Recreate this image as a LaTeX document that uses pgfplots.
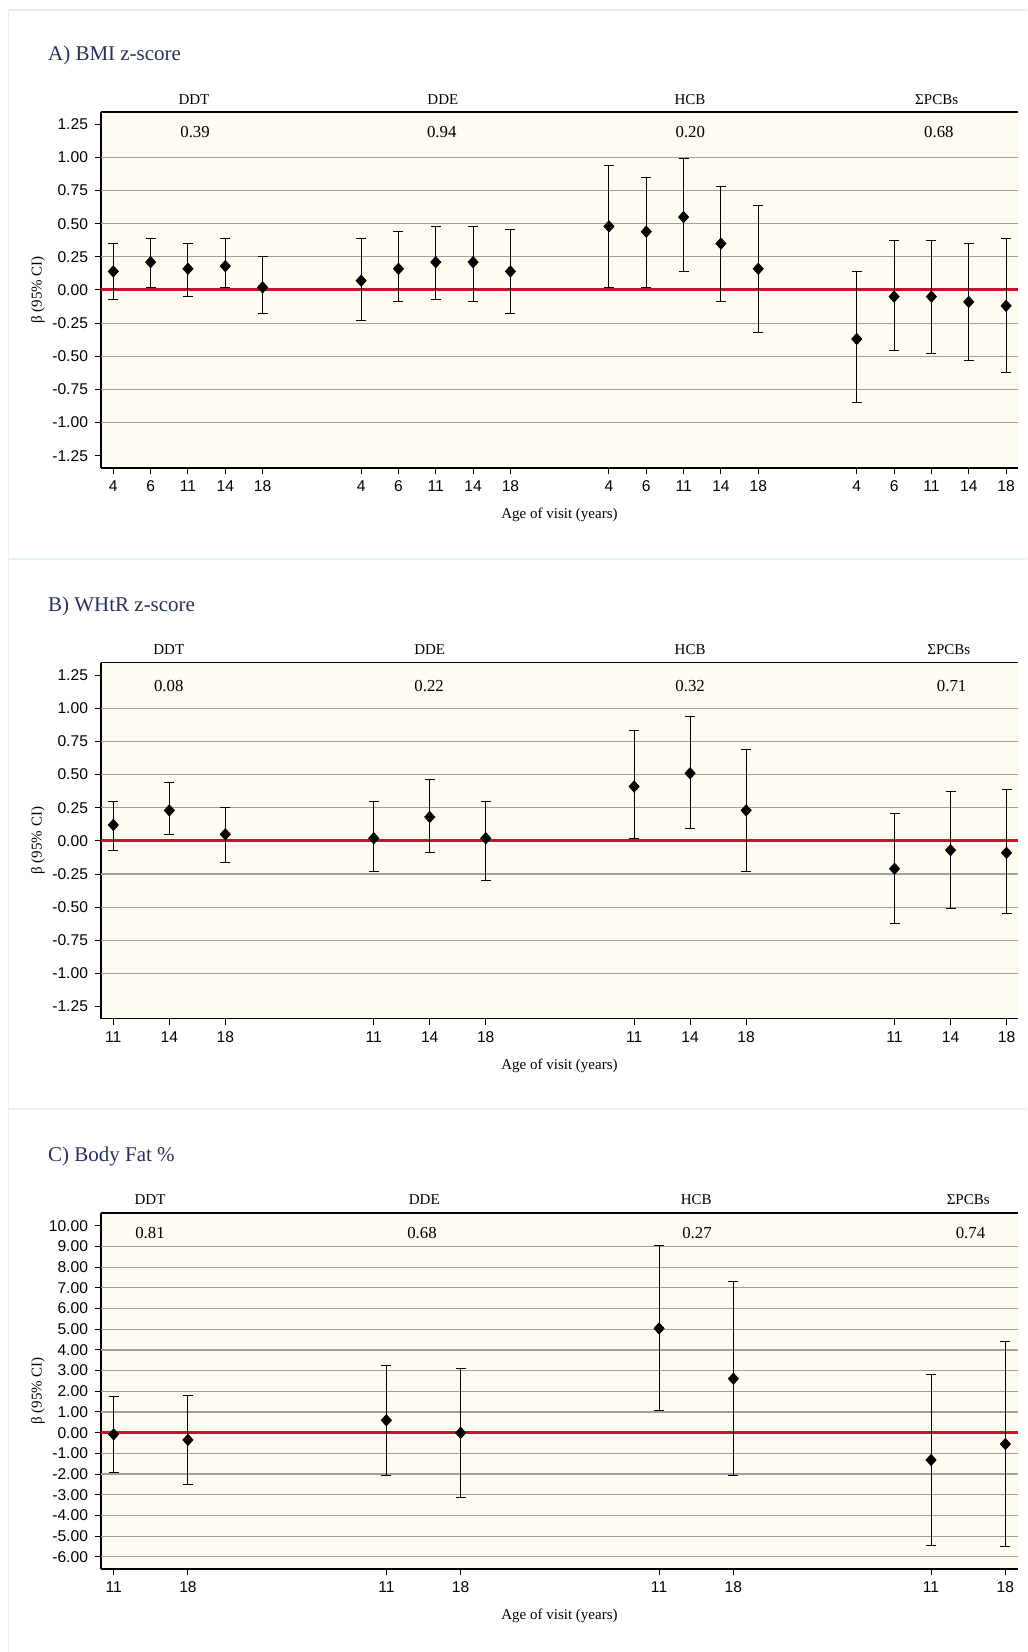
\documentclass[border=0pt]{standalone}
\usepackage{fontspec}
\setmainfont{Liberation Serif}
\setsansfont{Liberation Sans}
\usepackage{pgfplots}
\usepackage{pgfplotstable}
\pgfplotsset{compat=1.18}

\definecolor{cream}{RGB}{254,251,240}
\definecolor{navy}{RGB}{38,50,88}
\definecolor{zred}{RGB}{200,16,46}
\definecolor{gridc}{RGB}{160,160,160}
\definecolor{sepc}{RGB}{230,240,238}

\pgfplotstableread{
x y lo hi
0 0.14 -0.07 0.35
1 0.21 0.02 0.39
2 0.16 -0.05 0.35
3 0.18 0.02 0.39
4 0.02 -0.18 0.25
6.64 0.07 -0.23 0.39
7.64 0.16 -0.09 0.44
8.64 0.21 -0.07 0.48
9.64 0.21 -0.09 0.48
10.64 0.14 -0.18 0.46
13.28 0.48 0.02 0.94
14.28 0.44 0.02 0.85
15.28 0.55 0.14 0.99
16.28 0.35 -0.09 0.78
17.28 0.16 -0.32 0.64
19.92 -0.37 -0.85 0.14
20.92 -0.05 -0.46 0.37
21.92 -0.05 -0.48 0.37
22.92 -0.09 -0.53 0.35
23.92 -0.12 -0.62 0.39
}\tabA

\pgfplotstableread{
x y lo hi
0 0.12 -0.07 0.30
1 0.23 0.05 0.44
2 0.05 -0.16 0.25
4.65 0.02 -0.23 0.30
5.65 0.18 -0.09 0.46
6.65 0.02 -0.30 0.30
9.30 0.41 0.02 0.83
10.30 0.51 0.09 0.94
11.30 0.23 -0.23 0.69
13.95 -0.21 -0.62 0.21
14.95 -0.07 -0.51 0.37
15.95 -0.09 -0.55 0.39
}\tabB

\pgfplotstableread{
x y lo hi
0 -0.08 -1.92 1.77
1 -0.35 -2.50 1.79
3.67 0.60 -2.06 3.25
4.67 -0.01 -3.14 3.09
7.34 5.04 1.05 9.03
8.34 2.61 -2.09 7.29
11.00 -1.32 -5.43 2.82
12.00 -0.55 -5.51 4.43
}\tabC

\tikzset{
  grp/.style={font=\fontsize{7.5}{9}\selectfont},
  pv/.style={font=\fontsize{8.4}{10}\selectfont},
}

\pgfplotsset{
  panel/.style={
    scale only axis, width=458.5pt, height=178pt,
    anchor=north west, clip=false,
    axis background/.style={fill=cream},
    axis x line=bottom, axis y line=left, axis line style={-, black, line width=0.6pt},
    tick align=outside, major tick length=3pt,
    tick style={black, line width=0.5pt},
    ticklabel style={font=\sffamily\fontsize{7.8}{8}\selectfont},
    xlabel={Age of visit (years)},
    ylabel={β (95\% CI)},
    label style={font=\fontsize{7.5}{8}\selectfont},
    x label style={at={(axis description cs:0.5,-0.132)}, anchor=center},
    y label style={at={(axis description cs:-0.0687,0.5)}, anchor=center},
    extra y tick style={grid=major, major tick length=0pt, major grid style={gridc, line width=0.6pt}},
    extra y tick labels={},
  },
  ci/.style={only marks, mark=diamond*, mark size=2.8pt, mark options={xscale=1.2}, black,
    error bars/.cd, y dir=both, y explicit,
    error bar style={line width=0.5pt, black},
    error mark=|,
    error mark options={mark size=2.5pt, line width=0.5pt, black}},
  zline/.style={zred, line width=1.5pt, forget plot, no markers},
}

\begin{document}
\begin{tikzpicture}
\useasboundingbox (0,0) rectangle (513.5pt,826pt);
% faint panel separators
\draw[sepc, line width=0.6pt] (4.25pt,821pt) -- (513.5pt,821pt);
\draw[sepc, line width=0.6pt] (4.25pt,821pt) -- (4.25pt,0pt);
\draw[sepc, line width=0.6pt] (4.25pt,546.5pt) -- (513.5pt,546.5pt);
\draw[sepc, line width=0.6pt] (4.25pt,271.5pt) -- (513.5pt,271.5pt);

% titles
\node[anchor=west, inner sep=0pt, text=navy, font=\fontsize{10.5}{12}\selectfont] at (23.85pt,798.5pt) {A) BMI z-score};
\node[anchor=west, inner sep=0pt, text=navy, font=\fontsize{10.5}{12}\selectfont] at (23.85pt,523pt) {B) WHtR z-score};
\node[anchor=west, inner sep=0pt, text=navy, font=\fontsize{10.5}{12}\selectfont] at (23.85pt,247.65pt) {C) Body Fat \%};

% Panel A
\begin{axis}[panel, at={(50.5pt,770pt)},
  xmin=-0.33, xmax=24.24, ymin=-1.343, ymax=1.343,
  xtick={0,1,2,3,4,6.64,7.64,8.64,9.64,10.64,13.28,14.28,15.28,16.28,17.28,19.92,20.92,21.92,22.92,23.92},
  xticklabels={4,6,11,14,18,4,6,11,14,18,4,6,11,14,18,4,6,11,14,18},
  ytick={-1.25,-1,-0.75,-0.5,-0.25,0,0.25,0.5,0.75,1,1.25},
  yticklabels={-1.25,-1.00,-0.75,-0.50,-0.25,0.00,0.25,0.50,0.75,1.00,1.25},
  extra y ticks={-1,-0.75,-0.5,-0.25,0.25,0.5,0.75,1},
]
\addplot[zline] coordinates {(-0.33,0) (24.24,0)};
\addplot[ci] table[x=x, y=y, y error plus expr=\thisrow{hi}-\thisrow{y}, y error minus expr=\thisrow{y}-\thisrow{lo}] {\tabA};
\draw[black, line width=0.6pt] (rel axis cs:0,1) -- (rel axis cs:1,1);
\node[grp] at (axis cs:2.16,1.44) {DDT};
\node[grp] at (axis cs:8.83,1.44) {DDE};
\node[grp] at (axis cs:15.45,1.44) {HCB};
\node[grp] at (axis cs:22.06,1.44) {ΣPCBs};
\node[pv] at (axis cs:2.19,1.19) {0.39};
\node[pv] at (axis cs:8.80,1.19) {0.94};
\node[pv] at (axis cs:15.46,1.19) {0.20};
\node[pv] at (axis cs:22.12,1.19) {0.68};
\end{axis}

% Panel B
\begin{axis}[panel, at={(50.5pt,494.65pt)},
  xmin=-0.22, xmax=16.155, ymin=-1.341, ymax=1.344,
  xtick={0,1,2,4.65,5.65,6.65,9.30,10.30,11.30,13.95,14.95,15.95},
  xticklabels={11,14,18,11,14,18,11,14,18,11,14,18},
  ytick={-1.25,-1,-0.75,-0.5,-0.25,0,0.25,0.5,0.75,1,1.25},
  yticklabels={-1.25,-1.00,-0.75,-0.50,-0.25,0.00,0.25,0.50,0.75,1.00,1.25},
  extra y ticks={-1,-0.75,-0.5,-0.25,0.25,0.5,0.75,1},
]
\addplot[zline] coordinates {(-0.22,0) (16.155,0)};
\addplot[ci] table[x=x, y=y, y error plus expr=\thisrow{hi}-\thisrow{y}, y error minus expr=\thisrow{y}-\thisrow{lo}] {\tabB};
\draw[black, line width=0.6pt] (rel axis cs:0,1) -- (rel axis cs:1,1);
\node[grp] at (axis cs:0.99,1.443) {DDT};
\node[grp] at (axis cs:5.65,1.443) {DDE};
\node[grp] at (axis cs:10.30,1.443) {HCB};
\node[grp] at (axis cs:14.92,1.443) {ΣPCBs};
\node[pv] at (axis cs:0.99,1.168) {0.08};
\node[pv] at (axis cs:5.64,1.168) {0.22};
\node[pv] at (axis cs:10.30,1.168) {0.32};
\node[pv] at (axis cs:14.97,1.168) {0.71};
\end{axis}

% Panel C
\begin{axis}[panel, at={(50.5pt,219.5pt)},
  xmin=-0.17, xmax=12.17, ymin=-6.59, ymax=10.62,
  xtick={0,1,3.67,4.67,7.34,8.34,11,12},
  xticklabels={11,18,11,18,11,18,11,18},
  ytick={-6,-5,-4,-3,-2,-1,0,1,2,3,4,5,6,7,8,9,10},
  yticklabels={-6.00,-5.00,-4.00,-3.00,-2.00,-1.00,0.00,1.00,2.00,3.00,4.00,5.00,6.00,7.00,8.00,9.00,10.00},
  extra y ticks={-6,-5,-4,-3,-2,-1,1,2,3,4,5,6,7,8,9},
]
\addplot[zline] coordinates {(-0.17,0) (12.17,0)};
\addplot[ci] table[x=x, y=y, y error plus expr=\thisrow{hi}-\thisrow{y}, y error minus expr=\thisrow{y}-\thisrow{lo}] {\tabC};
\draw[black, line width=0.6pt] (rel axis cs:0,1) -- (rel axis cs:1,1);
\node[grp] at (axis cs:0.49,11.25) {DDT};
\node[grp] at (axis cs:4.18,11.25) {DDE};
\node[grp] at (axis cs:7.84,11.25) {HCB};
\node[grp] at (axis cs:11.50,11.25) {ΣPCBs};
\node[pv] at (axis cs:0.49,9.64) {0.81};
\node[pv] at (axis cs:4.15,9.64) {0.68};
\node[pv] at (axis cs:7.85,9.64) {0.27};
\node[pv] at (axis cs:11.53,9.64) {0.74};
\end{axis}
\end{tikzpicture}
\end{document}
